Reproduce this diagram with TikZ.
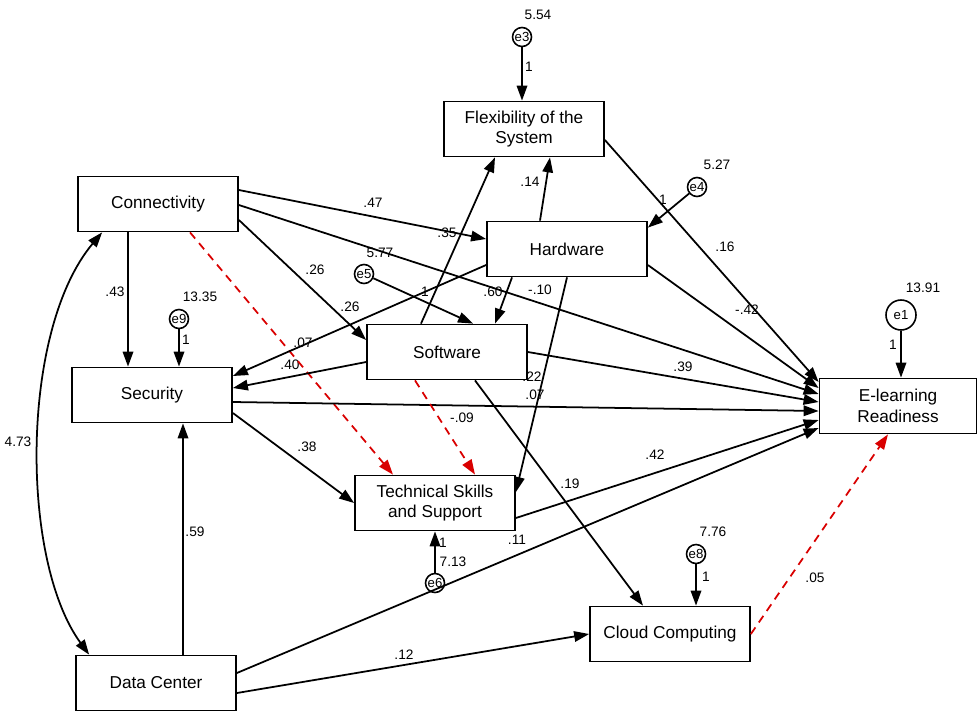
\documentclass[tikz,border=0pt]{standalone}
\usepackage{fontspec}
\setmainfont{Liberation Sans}
\usetikzlibrary{arrows.meta,calc}
\tikzset{
  var/.style={draw,line width=1pt,minimum width=32mm,minimum height=11mm,align=center,inner sep=1pt,font=\fontsize{9.8}{11.6}\selectfont},
  err/.style={circle,draw,line width=0.9pt,minimum size=3.8mm,inner sep=0pt,font=\fontsize{7.5}{8}\selectfont},
  est/.style={inner sep=0pt,font=\fontsize{7.8}{8}\selectfont},
  reg/.style={line width=1pt,-{Triangle[length=3mm,width=2.1mm]}},
  nonsig/.style={reg,red!85!black,dash pattern=on 1.6mm off 1.2mm},
  cov/.style={line width=1pt,{Triangle[length=3mm,width=2.1mm]}-{Triangle[length=3mm,width=2.1mm]}}
}
\begin{document}
\begin{tikzpicture}[x=0.2mm,y=-0.2mm]
\useasboundingbox (0,0) rectangle (980,714);
      \node[var] (flex) at (524,129) {Flexibility of the\\System};
      \node[var] (conn) at (158,204) {Connectivity};
      \node[var] (hard) at (567,249) {Hardware};
      \node[var] (soft) at (447,352) {Software};
      \node[var] (secu) at (152,395) {Security};
      \node[var,minimum width=31.4mm] (elr) at (898,406) {E-learning\\Readiness};
      \node[var] (tech) at (435,503) {Technical Skills\\and Support};
      \node[var] (cloud) at (670,634) {Cloud Computing};
      \node[var] (dcen) at (156,683) {Data Center};

      \node[err] (e3) at (522,37) {e3};
      \node[err] (e4) at (697,187) {e4};
      \node[err] (e5) at (364,274) {e5};
      \node[err] (e9) at (179,319) {e9};
      \node[err,minimum size=6mm] (e1) at (901,315) {e1};
      \node[err] (e6) at (435,583) {e6};
      \node[err] (e8) at (696,554) {e8};

      \node[est] (ve3) at (538,15) {5.54};
      \node[est] (ve4) at (717,165) {5.27};
      \node[est] (ve5) at (380,253) {5.77};
      \node[est] (ve9) at (200,297) {13.35};
      \node[est] (ve1) at (923,288) {13.91};
      \node[est] (ve6) at (453,562) {7.13};
      \node[est] (ve8) at (713,532) {7.76};

      \node[est] (fe3) at (529,67) {1};
      \node[est] (fe4) at (663,200) {1};
      \node[est] (fe5) at (425,292) {1};
      \node[est] (fe9) at (186,340) {1};
      \node[est] (fe1) at (893,345) {1};
      \node[est] (fe6) at (443,543) {1};
      \node[est] (fe8) at (706,577) {1};

      \node[est] (w1) at (373,203) {.47};
      \node[est] (w2) at (447,233) {.35};
      \node[est] (w3) at (315,270) {.26};
      \node[est] (w4) at (350,307) {.26};
      \node[est] (w5) at (115,292) {.43};
      \node[est] (w6) at (530,182) {.14};
      \node[est] (w7) at (725,247) {.16};
      \node[est] (w8) at (747,310) {-.42};
      \node[est] (w9) at (493,292) {.60};
      \node[est] (w10) at (540,290) {-.10};
      \node[est] (w11) at (303,343) {.07};
      \node[est] (w12) at (290,365) {.40};
      \node[est] (w13) at (532,377) {.22};
      \node[est] (w14) at (535,395) {.07};
      \node[est] (w15) at (683,367) {.39};
      \node[est] (w16) at (462,418) {-.09};
      \node[est] (w17) at (307,447) {.38};
      \node[est] (w18) at (655,455) {.42};
      \node[est] (w19) at (570,484) {.19};
      \node[est] (w20) at (517,540) {.11};
      \node[est] (w21) at (195,532) {.59};
      \node[est] (w22) at (404,655) {.12};
      \node[est] (w23) at (815,578) {.05};
      \node[est] (w24) at (18,442) {4.73};

      \draw[reg] ($(conn.east)+(0,-14)$) -- ($(hard.west)+(0,-10)$);
      \draw[reg] ($(conn.east)+(0,1)$) -- ($(elr.west)+(0,-12)$);
      \draw[reg] ($(conn.east)+(0,16)$) -- ($(soft.west)+(0,-12)$);
      \draw[reg] ($(conn.south)+(-30,0)$) -- ($(secu.north)+(-24,0)$);
      \draw[nonsig] ($(conn.south)+(32,0)$) -- ($(tech.north)+(-42,0)$);
      \draw[cov] ($(conn.south west)+(25,0)$) .. controls (20,330) and (20,560) .. ($(dcen.north west)+(14,0)$);
      \draw[reg] ($(hard.north)+(-27,0)$) -- ($(flex.south)+(26,0)$);
      \draw[reg] ($(soft.north)+(-26,0)$) -- ($(flex.south)+(-29,0)$);
      \draw[reg] ($(hard.west)+(0,16)$) -- ($(secu.east)+(0,-19)$);
      \draw[reg] ($(soft.west)+(0,10)$) -- ($(secu.east)+(0,-7)$);
      \draw[reg] ($(hard.south)+(-55,0)$) -- ($(soft.north)+(48,0)$);
      \draw[reg] (hard.south) -- ($(tech.east)+(0,-11)$);
      \draw[reg] ($(hard.east)+(0,16)$) -- ($(elr.west)+(0,-18)$);
      \draw[reg] ($(flex.east)+(0,11)$) -- ($(elr.west)+(0,-24)$);
      \draw[reg] (soft.east) -- ($(elr.west)+(0,-4)$);
      \draw[reg] ($(secu.east)+(0,7)$) -- ($(elr.west)+(0,5)$);
      \draw[reg] ($(secu.east)+(0,18)$) -- (tech.west);
      \draw[reg] ($(tech.east)+(0,15)$) -- ($(elr.west)+(0,14)$);
      \draw[reg] ($(dcen.east)+(0,-10)$) -- ($(elr.west)+(0,22)$);
      \draw[reg] ($(dcen.east)+(0,10)$) -- (cloud.west);
      \draw[reg] ($(dcen.north)+(27,0)$) -- ($(secu.south)+(31,0)$);
      \draw[reg] ($(soft.south)+(28,0)$) -- ($(cloud.north)+(-27,0)$);
      \draw[nonsig] ($(soft.south)+(-32,0)$) -- ($(tech.north)+(40,0)$);
      \draw[nonsig] (cloud.east) -- ($(elr.south)+(-10,0)$);

      \draw[reg] (e3) -- (e3 |- flex.north);
      \draw[reg] (e4) -- ($(hard.north east)+(0,7)$);
      \draw[reg] (e5) -- ($(soft.north)+(26,0)$);
      \draw[reg] (e9) -- (e9 |- secu.north);
      \draw[reg] (e1) -- (e1 |- elr.north);
      \draw[reg] (e6) -- (e6 |- tech.south);
      \draw[reg] (e8) -- (e8 |- cloud.north);
    \end{tikzpicture}
\end{document}
